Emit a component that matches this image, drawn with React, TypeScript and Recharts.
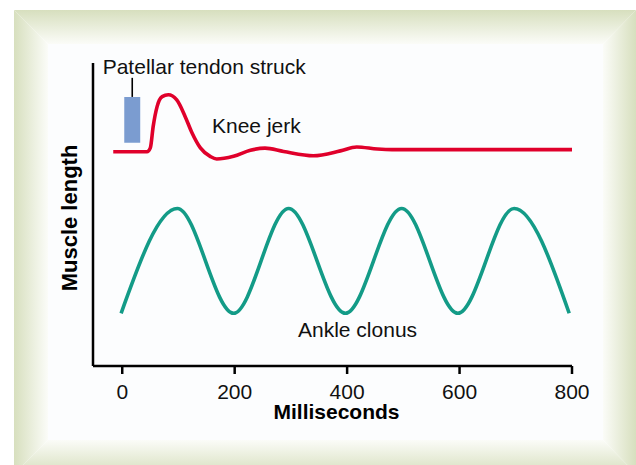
import { LineChart, Line, XAxis, YAxis, ReferenceArea, ReferenceLine } from 'recharts'

// knee jerk trace (ms, relative muscle length 0-100)
const kneeMs = [-16, 44, 50, 55, 62, 71, 82, 97, 112, 124, 139, 157, 168, 198, 228, 254, 287, 340, 388, 417, 454, 480, 800]
const kneeLen = [70.7, 70.7, 72.0, 79.0, 85.6, 88.9, 89.5, 87.8, 82.3, 77.0, 72.0, 69.1, 68.3, 69.2, 71.2, 71.9, 70.8, 69.4, 71.0, 72.3, 71.6, 71.4, 71.4]

// ankle clonus trace: peaks and troughs
const ankleMs = [-2, 98, 198, 296, 397, 497, 597, 697, 795]
const ankleLen = [17.4, 52.0, 17.4, 52.0, 17.4, 52.0, 17.4, 52.0, 17.4]

// tendon strike marker
const strikeMs = [3.6, 32]
const strikeLen = [73.7, 88.8]
const strikeTickMs = 17.8
const strikeTickTop = 95.1

const xTicks = [0, 200, 400, 600, 800]

const kneeData = kneeMs.map((ms, i) => ({ ms, v: kneeLen[i] }))
const ankleData = ankleMs.map((ms, i) => ({ ms, v: ankleLen[i] }))

const FONT = '"Liberation Sans", Arial, Helvetica, sans-serif'
const RED = '#e0002b'
const TEAL = '#139b87'
const OUTER = '#d7dfbe'
const INNER = '#fbfcf8'

const band = (style: React.CSSProperties) => (
  <div style={{ position: 'absolute', ...style }} />
)

export default function App() {
  return (
    <div style={{ position: 'absolute', left: 0, top: 0, width: 636, height: 465, background: '#fff', overflow: 'hidden', fontFamily: FONT }}>
      {/* bevelled frame */}
      {band({ left: 14, top: 10, width: 622, height: 34, clipPath: 'polygon(0 0, 100% 0, calc(100% - 33px) 100%, 34px 100%)', background: `linear-gradient(to bottom, ${OUTER}, ${INNER})` })}
      {band({ left: 14, top: 440, width: 622, height: 34, clipPath: 'polygon(34px 0, calc(100% - 33px) 0, 100% 100%, 0 100%)', background: `linear-gradient(to top, ${OUTER}, ${INNER})` })}
      {band({ left: 14, top: 10, width: 34, height: 464, clipPath: 'polygon(0 0, 100% 34px, 100% calc(100% - 34px), 0 100%)', background: `linear-gradient(to right, ${OUTER}, ${INNER})` })}
      {band({ left: 603, top: 10, width: 33, height: 464, clipPath: 'polygon(0 34px, 100% 0, 100% 100%, 0 calc(100% - 34px))', background: `linear-gradient(to left, ${OUTER}, ${INNER})` })}
      {band({ left: 48, top: 44, width: 555, height: 396, background: '#fcfdfe' })}

      <div style={{ position: 'absolute', left: 0, top: 0 }}>
        <LineChart width={636} height={465} data={kneeData} margin={{ top: 63, right: 64, left: 90, bottom: 39 }}>
          <XAxis
            type="number"
            dataKey="ms"
            domain={[-52, 800]}
            ticks={xTicks}
            allowDataOverflow
            height={60}
            tickSize={8}
            tickMargin={10}
            axisLine={{ stroke: '#000', strokeWidth: 2.5 }}
            tickLine={{ stroke: '#000', strokeWidth: 2.5 }}
            tick={{ fill: '#111', fontSize: 21, fontFamily: FONT }}
          />
          <YAxis
            type="number"
            domain={[0, 100]}
            allowDataOverflow
            width={3}
            tick={false}
            tickLine={false}
            axisLine={{ stroke: '#000', strokeWidth: 2.5 }}
          />
          <ReferenceArea x1={strikeMs[0]} x2={strikeMs[1]} y1={strikeLen[0]} y2={strikeLen[1]} fill="#7b9cd0" fillOpacity={1} stroke="none" />
          <ReferenceLine segment={[{ x: strikeTickMs, y: strikeLen[1] }, { x: strikeTickMs, y: strikeTickTop }]} stroke="#000" strokeWidth={1.6} />
          <Line data={kneeData} dataKey="v" type="monotone" stroke={RED} strokeWidth={3.6} dot={false} activeDot={false} isAnimationActive={false} />
          <Line data={ankleData} dataKey="v" type="monotone" stroke={TEAL} strokeWidth={3.6} dot={false} activeDot={false} isAnimationActive={false} />
          <text x={102.7} y={74} fontSize={21} fontFamily={FONT} fill="#111">Patellar tendon struck</text>
          <text x={212} y={133} fontSize={21} fontFamily={FONT} fill="#111">Knee jerk</text>
          <text x={298} y={337} fontSize={21} fontFamily={FONT} fill="#111">Ankle clonus</text>
          <text x={336.5} y={419} fontSize={21} fontWeight="bold" textAnchor="middle" fontFamily={FONT} fill="#000">Milliseconds</text>
          <text x={76.5} y={218} fontSize={22} fontWeight="bold" textAnchor="middle" fontFamily={FONT} fill="#000" transform="rotate(-90, 76.5, 218)">Muscle length</text>
        </LineChart>
      </div>
    </div>
  )
}
